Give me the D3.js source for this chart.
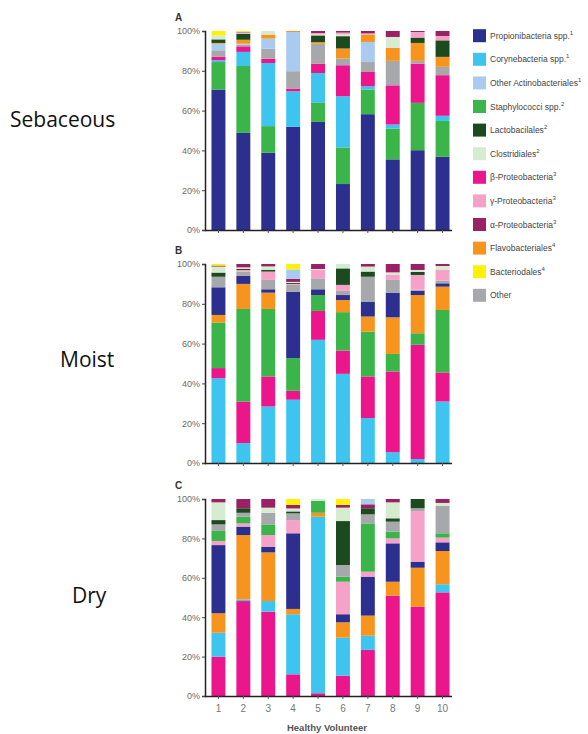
<!DOCTYPE html>
<html><head><meta charset="utf-8">
<script src="https://cdn.jsdelivr.net/npm/d3@7"></script>
<style>
html,body{margin:0;padding:0;background:#fff;}
svg{display:block;}
</style>
</head><body>
<svg id="chart" width="588" height="734"></svg>
<script>
// ---------- data ----------
const volunteers = ["1","2","3","4","5","6","7","8","9","10"];
const taxonKeys = ["P","C","OA","S","L","Cl","B","G","A","F","Bd","O"];
const taxonNames = ["Propionibacteria spp.","Corynebacteria spp.","Other Actinobacteriales","Staphylococci spp.","Lactobacilales","Clostridiales","β-Proteobacteria","γ-Proteobacteria","α-Proteobacteria","Flavobacteriales","Bacteriodales","Other"];
const taxonSup = ["1","1","1","2","2","2","3","3","3","4","4",""];
const panelLetters = ["A","B","C"];
const siteNames = ["Sebaceous","Moist","Dry"];
const yTicks = [0,20,40,60,80,100];

// stacking order (bottom to top) per panel
const sebaceousOrder = ["P","S","C","B","O","OA","F","L","Cl","G","A","Bd"];
const sebaceousValues = [
  [70.6,48.8,38.8,51.8,54.3,23.1,58.2,35.5,40.1,36.8],
  [13.8,33.6,13.4,0,9.6,18.4,12.4,15.5,23.8,18.0],
  [0.9,7.1,31.7,17.9,15.0,25.7,1.6,2.0,0,2.6],
  [1.7,2.8,2.2,1.4,4.7,15.6,7.2,19.7,19.7,20.4],
  [3.3,0.8,5.0,8.7,10.0,3.4,5.0,12.3,1.4,4.2],
  [3.3,0.5,5.1,19.7,0,0,10.1,0,0,0],
  [0.4,2.0,2.0,0.5,0.8,5.0,3.8,6.6,9.0,5.0],
  [1.8,3.1,0,0,3.4,6.2,0,0,2.7,8.3],
  [2.0,0.3,1.8,0,0.5,1.0,0,5.4,0,0],
  [0,0.3,0,0,0.7,0.8,0.5,0,2.8,2.2],
  [0,0.3,0,0,1.0,0.8,1.2,3.0,0.5,2.5],
  [2.2,0.4,0,0,0,0,0,0,0,0]
];

const moistOrder = ["C","B","S","F","P","O","G","L","Cl","A","OA","Bd"];
const moistValues = [
  [42.6,10,28.4,31.8,61.9,44.8,22.6,5.4,2.0,30.9],
  [5.1,20.9,15.1,4.5,14.5,11.7,20.9,40.6,57.4,14.6],
  [22.9,46.5,33.9,16.4,8.0,19.3,22.5,8.8,5.8,31.4],
  [3.8,12.6,8.2,0,0,6.1,7.6,18.4,19.2,11.7],
  [13.9,4.0,1.7,33.4,2.9,2.5,7.5,12.4,2.2,1.7],
  [5.3,2.2,4.7,3.4,5.5,2.1,12.5,6.4,0.5,1.3],
  [0,0.8,4.2,0.5,4.2,3.0,0,2.5,7.4,5.4],
  [2.1,0.5,0.8,0.5,0,8.3,2.6,0,1.5,0],
  [3.0,0.8,1.8,0.5,0.5,2.2,2.5,1.3,1.0,2.0],
  [0.5,1.7,1.2,1.5,2.5,0,1.3,4.2,3.0,1.0],
  [0,0,0,4.8,0,0,0,0,0,0],
  [0.8,0,0,2.7,0,0,0,0,0,0]
];

const dryOrder = ["B","C","F","P","G","S","O","L","Cl","A","Bd","OA"];
const dryValues = [
  [20,48.2,42.8,11,1.4,10.3,23.4,50.9,45.3,52.6],
  [12.1,0.8,5.4,30.5,89.6,19.3,7.2,0,0,4.1],
  [9.9,32.7,24.7,2.7,2.0,7.8,10.2,7.1,19.8,16.9],
  [34.6,4.3,2.9,38.4,0,4.1,19.8,19.5,3.1,4.4],
  [2.1,1.6,5.9,6.7,0,16.5,2.5,2.5,25.7,2.4],
  [5.1,3.4,5.4,0,6.0,2.6,24.5,3.4,0,2.2],
  [3.3,2.0,5.9,3.4,0,5.9,4.6,5.1,1.4,14.0],
  [2.2,2.3,0,1.0,0,22.3,3.1,1.7,4.7,0],
  [9.0,0,2.6,1.5,1.0,6.8,0,8.1,0,1.4],
  [1.7,4.7,4.4,1.8,0,1.4,2.0,1.7,0,2.0],
  [0,0,0,3.0,0,3.0,0,0,0,0],
  [0,0,0,0,0,0,2.7,0,0,0]
];

// ---------- styles ----------
const taxonColors = ["#2d2f8e","#3dc5f0","#a9cbef","#3bb54a","#1b4a1f","#d5ecd1","#ec168c","#f6a2c8","#9a2163","#f7941e","#fff200","#a6a8ab"];
const color = d3.scaleOrdinal().domain(taxonKeys).range(taxonColors);

const svg = d3.select("#chart");
const font = "'Liberation Sans', Arial, sans-serif";

const panels = [
  {order: sebaceousOrder, values: sebaceousValues, top: 31, bottom: 230, labelY: 127, labelX: 10},
  {order: moistOrder, values: moistValues, top: 264, bottom: 463, labelY: 367, labelX: 60},
  {order: dryOrder, values: dryValues, top: 499, bottom: 696, labelY: 603, labelX: 72}
];

const x = d3.scaleBand().domain(volunteers).range([206, 455]).paddingInner(0.44).paddingOuter(0.22);

panels.forEach((p, pi) => {
  const rows = volunteers.map((v, i) => {
    const r = {vol: v};
    p.order.forEach((k, ki) => { r[k] = p.values[ki][i]; });
    return r;
  });
  const stack = d3.stack().keys(p.order)(rows);
  const y = d3.scaleLinear().domain([0, 100]).range([p.bottom, p.top]);
  const g = svg.append("g");

  g.selectAll("g.layer").data(stack).join("g")
    .attr("fill", d => color(d.key))
    .selectAll("rect").data(d => d).join("rect")
    .attr("x", d => x(d.data.vol))
    .attr("width", x.bandwidth())
    .attr("y", d => y(d[1]))
    .attr("height", d => Math.max(0, y(d[0]) - y(d[1])));

  // y axis
  const yAxis = d3.axisLeft(y).tickValues(yTicks).tickFormat(d => d + "%").tickSize(3).tickPadding(2);
  const ya = g.append("g").attr("transform", "translate(205,0)").call(yAxis);
  ya.select(".domain").attr("stroke", "#222").attr("stroke-width", 1.5);
  ya.selectAll(".tick line").attr("stroke", "#444");
  ya.selectAll(".tick text").attr("font-family", font).attr("font-size", 9).attr("fill", "#6a6a6a");

  // x axis
  const xAxis = d3.axisBottom(x).tickSize(3).tickSizeOuter(0).tickPadding(6);
  const xa = g.append("g").attr("transform", `translate(0,${p.bottom})`).call(xAxis);
  xa.select(".domain").attr("stroke", "#222").attr("stroke-width", 1.5).attr("d", "M205,0.5H452");
  xa.selectAll(".tick line").attr("stroke", "#555");
  xa.selectAll(".tick text").attr("font-family", font).attr("font-size", 10).attr("fill", "#777");
  if (pi < 2) xa.selectAll(".tick text").remove();

  // panel letter
  g.append("text").attr("x", 175).attr("y", p.top - 10)
    .attr("font-family", font).attr("font-size", 10).attr("font-weight", "bold").attr("fill", "#333")
    .text(panelLetters[pi]);

  // site label
  g.append("text").attr("x", p.labelX).attr("y", p.labelY)
    .attr("font-family", "'Open Sans', sans-serif").attr("font-size", 21).attr("fill", "#111")
    .text(siteNames[pi]);
});

// x axis title
svg.append("text").attr("x", 327).attr("y", 731).attr("text-anchor", "middle")
  .attr("font-family", font).attr("font-size", 9.5).attr("font-weight", "bold").attr("fill", "#555")
  .text("Healthy Volunteer");

// legend
const leg = svg.append("g");
taxonKeys.forEach((k, i) => {
  const cy = 35.7 + i * 23.6;
  leg.append("rect").attr("x", 473).attr("y", cy - 6.5).attr("width", 13).attr("height", 13).attr("fill", color(k));
  const t = leg.append("text").attr("x", 490).attr("y", cy + 3)
    .attr("font-family", font).attr("font-size", 8.5).attr("fill", "#444");
  t.append("tspan").text(taxonNames[i]);
  if (taxonSup[i]) t.append("tspan").attr("font-size", 6).attr("dy", -4).text(taxonSup[i]);
});
</script>
</body></html>
